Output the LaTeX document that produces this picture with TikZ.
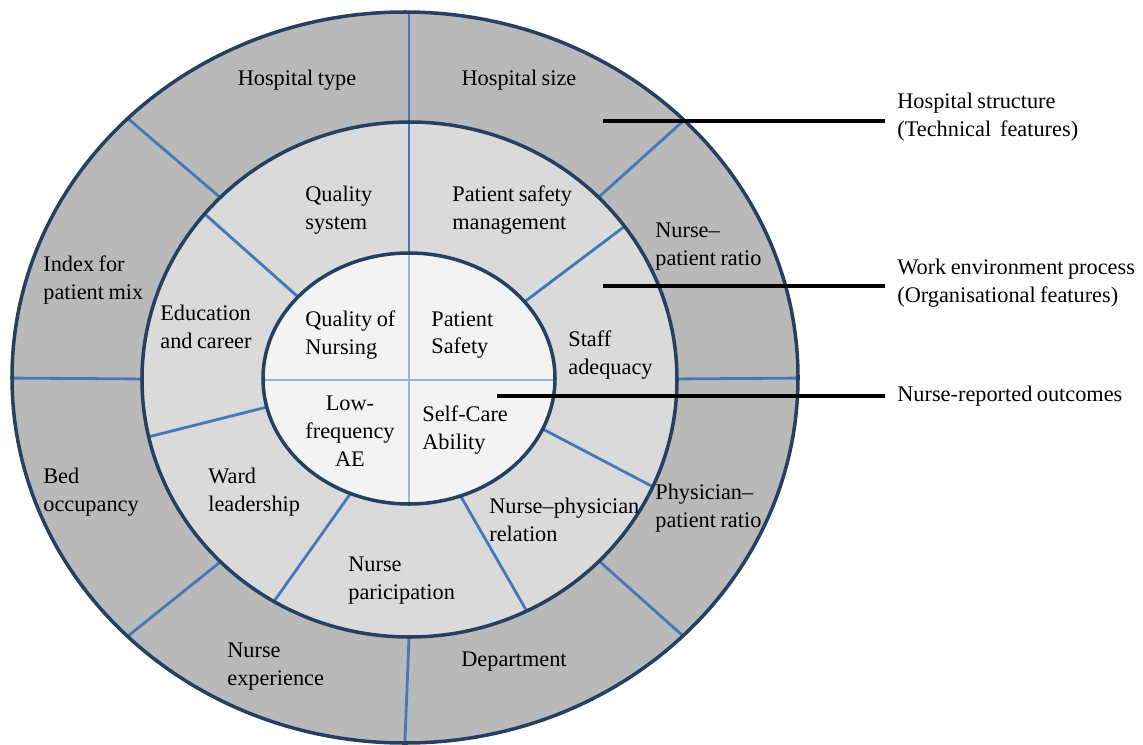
\documentclass[tikz,border=0pt]{standalone}
\usepackage{fontspec}
\setmainfont{Liberation Serif}[WordSpace=0.8]
\definecolor{ringout}{RGB}{185,185,185}
\definecolor{ringmid}{RGB}{218,218,218}
\definecolor{ringin}{RGB}{243,243,243}
\definecolor{rimblue}{RGB}{37,64,97}
\definecolor{spokeblue}{RGB}{70,120,185}
\definecolor{spokelight}{RGB}{150,180,215}
\tikzset{
  lbl/.style={inner sep=0pt, align=left, anchor=west, font=\fontsize{12.7}{15.9}\selectfont},
  clbl/.style={lbl, align=center, anchor=center},
  rim/.style={draw=rimblue, line width=2pt},
  spoke/.style={draw=spokeblue, line width=1.6pt},
  callout/.style={draw=black, line width=2pt},
}
\begin{document}
\begin{tikzpicture}[x=0.02cm,y=-0.02cm]
\useasboundingbox (0,0) rectangle (1143,744);
\coordinate (co) at (405,377.5);
\coordinate (cm) at (409.5,379.5);
\coordinate (ci) at (409,378.5);
% outer ring
\fill[ringout] (co) ellipse [x radius=393, y radius=365.5];
\begin{scope}
\clip (co) ellipse [x radius=393, y radius=365.5];
\foreach \a/\b in {{409,130}/{409,0}, {229,205}/{118,110}, {590,205}/{691,114},
    {150,379}/{0,378}, {670,379}/{810,378}, {229,555}/{118,644},
    {590,553}/{691,643}, {409.3,630}/{404.6,750}}
{
    \draw[spoke] (\a)--(\b);
}
\end{scope}
% middle ring
\fill[ringmid] (cm) ellipse [x radius=267.5, y radius=257.5];
\begin{scope}
\clip (cm) ellipse [x radius=267.5, y radius=257.5];
\foreach \a/\b in {{409,262}/{409,110}, {306,304}/{198,208}, {519,306}/{633,220},
    {271,406}/{140,439}, {537,426}/{661,491}, {353,490}/{270,607},
    {456,488}/{529,615}}
{
    \draw[spoke] (\a)--(\b);
}
\end{scope}
% inner ellipse
\fill[ringin] (ci) ellipse [x radius=146, y radius=125.5];
\begin{scope}
\clip (ci) ellipse [x radius=146, y radius=125.5];
\draw[spoke, draw=spokelight] (250,380)--(570,380);
\draw[spoke, draw=spokelight] (409,240)--(409,520);
\end{scope}
\draw[rim] (co) ellipse [x radius=393, y radius=365.5];
\draw[rim] (cm) ellipse [x radius=267.5, y radius=257.5];
\draw[rim] (ci) ellipse [x radius=146, y radius=125.5];
% outer labels
\node[clbl] (htype) at (297,80) {Hospital type};
\node[clbl] (hsize) at (519,80) {Hospital size};
\node[lbl] (nurpat) at (655,247) {Nurse–\\patient ratio};
\node[lbl] (phypat) at (655,508) {Physician–\\patient ratio};
\node[clbl] (dept) at (514,662) {Department};
\node[lbl] (nexp) at (227,667) {Nurse\\experience};
\node[lbl] (bedocc) at (43,492) {Bed\\occupancy};
\node[lbl] (pmix) at (43,280) {Index for\\patient mix};
% middle labels
\node[lbl] (qsys) at (305,210) {Quality\\system};
\node[lbl] (psm) at (452,210) {Patient safety\\management};
\node[lbl] (staff) at (568,355) {Staff\\adequacy};
\node[lbl] (nphy) at (489,520) {Nurse–physician\\relation};
\node[lbl] (npart) at (348,581) {Nurse\\paricipation};
\node[lbl] (ward) at (208,492) {Ward\\leadership};
\node[lbl] (educ) at (160,327) {Education\\and career};
% inner labels
\node[lbl] (qnur) at (305,335) {Quality of\\Nursing};
\node[lbl] (psaf) at (431,335) {Patient\\Safety};
\node[clbl] (lowae) at (350,431) {Low-\\frequency\\AE};
\node[lbl] (selfc) at (422,430) {Self-Care\\Ability};
% callouts
\coordinate (hsfoot) at (603,121);
\coordinate (wefoot) at (603,286);
\coordinate (nofoot) at (497,396);
\node[lbl, inner xsep=0.24cm] (hstruct) at (885,117) {Hospital structure\\(Technical\ \ features)};
\node[lbl, inner xsep=0.24cm] (workenv) at (885,283) {Work environment process\\(Organisational features)};
\node[lbl, inner xsep=0.24cm] (nrout) at (885,396) {Nurse-reported outcomes};
\draw[callout] (hsfoot)--(hsfoot -| hstruct.west);
\draw[callout] (wefoot)--(wefoot -| workenv.west);
\draw[callout] (nofoot)--(nofoot -| nrout.west);
\end{tikzpicture}
\end{document}
